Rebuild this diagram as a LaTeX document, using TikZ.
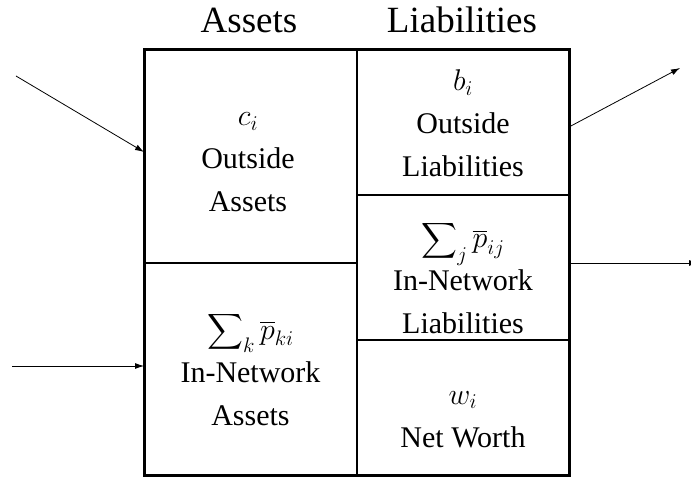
\documentclass[tikz,border=0pt]{standalone}
\usepackage{fix-cm}
\usepackage{amsmath}
\usepackage{fontspec}
\setmainfont{Liberation Serif}
\usetikzlibrary{arrows.meta, positioning}
\tikzstyle{cell}=[draw,rectangle,line width=1.2pt,inner sep=0pt,outer sep=0pt]
\tikzstyle{celltext}=[align=center,anchor=base,inner sep=0pt]
\tikzstyle{head}=[font=\fontsize{37}{44}\selectfont,anchor=base,inner sep=0pt]
\tikzstyle{every node}=[font=\fontsize{30}{43}\selectfont]
\newcommand{\pb}{\overline{p}}
\newcommand{\bigsum}{\displaystyle\sum\nolimits}

\begin{document}
\begin{tikzpicture}[x=1pt,y=1pt,>={Latex[length=9pt,width=6pt]}]
  \useasboundingbox (0,0) rectangle (691,477);
  \node[cell, minimum width=213pt, minimum height=213pt] (oa) at (250.5,320.5) {};
  \node[cell, minimum width=213pt, minimum height=212pt] (ia) at (250.5,108) {};
  \node[cell, minimum width=212pt, minimum height=145pt] (ol) at (463,354.5) {};
  \node[cell, minimum width=212pt, minimum height=145pt] (il) at (463,209.5) {};
  \node[cell, minimum width=212pt, minimum height=135pt] (nw) at (463,69.5) {};
  \draw[line width=3pt] (oa.north west) rectangle (nw.south east);
  % headings
  \node[head] (assets) at (249,444) {Assets};
  \node[head] (liabs) at (462,444) {Liabilities};
  % cell texts (base = last line)
  \node[celltext] (oatext) at (248,265) {$c_i$\\Outside\\Assets};
  \node[celltext] (iatext) at (250.5,52) {$\bigsum_k \pb_{ki}$\\In-Network\\Assets};
  \node[celltext] (oltext) at (463,300) {$b_i$\\Outside\\Liabilities};
  \node[celltext] (iltext) at (463,143) {$\bigsum_j \pb_{ij}$\\In-Network\\Liabilities};
  \node[celltext] (nwtext) at (463,30) {$w_i$\\Net Worth};
  % flows
  \coordinate (in1) at (16,401);
  \coordinate (in2) at (12,111);
  \coordinate (out1) at (680,409);
  \coordinate (out2) at (698,214);
  \draw[->, line width=0.8pt] (in1) -- ([yshift=4.5pt]oa.west);
  \draw[->, line width=0.8pt] (in2) -- ([yshift=3pt]ia.west);
  \draw[->, line width=0.8pt] ([yshift=-4.5pt]ol.east) -- (out1);
  \draw[->, line width=0.8pt] (il.east |- oa.south) -- (out2);
\end{tikzpicture}
\end{document}
